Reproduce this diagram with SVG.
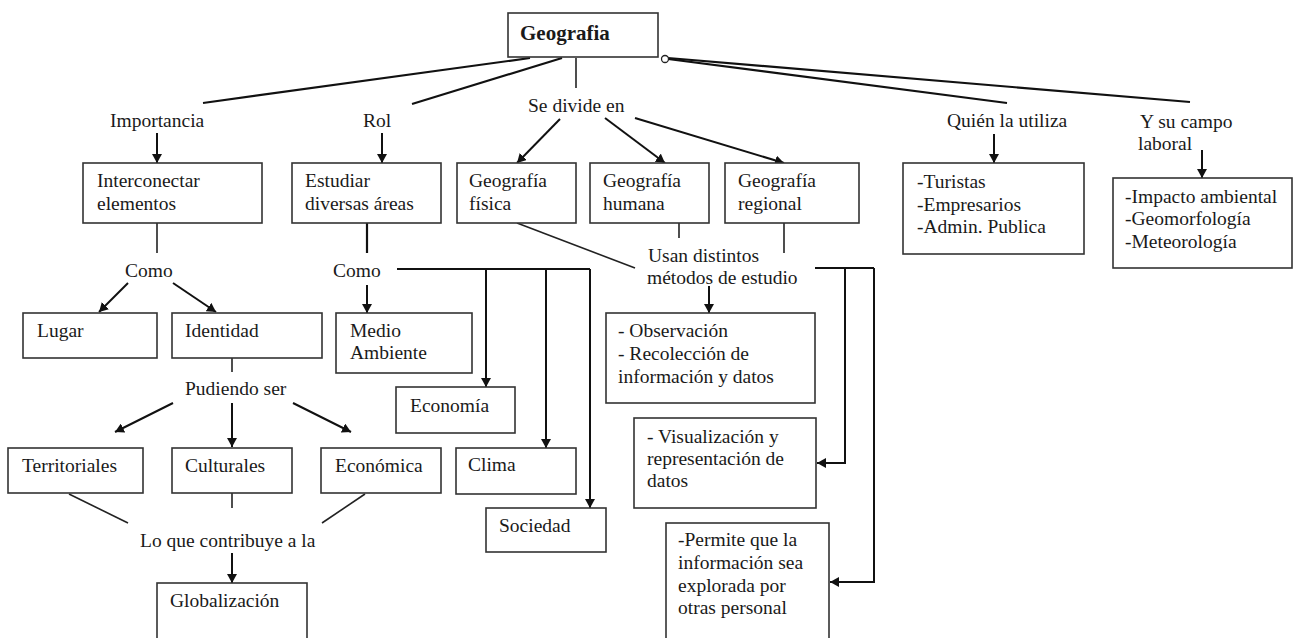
<svg xmlns="http://www.w3.org/2000/svg" width="1293" height="638" viewBox="0 0 1293 638">
<defs>
<marker id="ah" markerUnits="userSpaceOnUse" markerWidth="10" markerHeight="10" refX="9" refY="5" orient="auto">
<path d="M0,0 L9,5 L0,10 z" fill="#111"/>
</marker>
<style>
.b{fill:#fff;stroke:#333;stroke-width:1.6}
.t{font-family:"Liberation Serif","Times New Roman",serif;font-size:19.5px;fill:#1a1a1a}
.l{fill:none;stroke:#222;stroke-width:1.6}
.m{fill:none;stroke:#111;stroke-width:2.2}
.a{fill:none;stroke:#111;stroke-width:2;marker-end:url(#ah)}
</style>
</defs>
<rect width="1293" height="638" fill="#fff"/>
<g id="connectors">
<line class="m" x1="203" y1="103" x2="530" y2="58"/>
<line class="m" x1="412" y1="104" x2="562" y2="58"/>
<line class="l" x1="576" y1="58" x2="576" y2="88"/>
<line class="m" x1="668" y1="59" x2="1007" y2="103"/>
<line class="m" x1="668" y1="58" x2="1190" y2="102"/>
<circle cx="665" cy="59" r="3.5" fill="#fff" stroke="#222" stroke-width="1.3"/>
<line class="a" x1="157" y1="133" x2="157" y2="163"/>
<line class="a" x1="382" y1="133" x2="382" y2="163"/>
<line class="a" x1="560" y1="119" x2="517" y2="163"/>
<line class="a" x1="605" y1="118" x2="665" y2="163"/>
<line class="a" x1="635" y1="118" x2="784" y2="163"/>
<line class="a" x1="994" y1="134" x2="994" y2="163"/>
<line class="a" x1="1202" y1="150" x2="1202" y2="178"/>
<line class="l" x1="157" y1="223" x2="157" y2="253"/>
<line class="a" x1="128" y1="283" x2="99" y2="312"/>
<line class="a" x1="173" y1="283" x2="216" y2="312"/>
<line class="m" x1="367" y1="223" x2="367" y2="253"/>
<line class="a" x1="367" y1="285" x2="367" y2="313"/>
<polyline class="m" points="397,269 590,269"/>
<line class="a" x1="486" y1="269" x2="486" y2="387"/>
<line class="a" x1="546" y1="269" x2="546" y2="448"/>
<line class="a" x1="590" y1="269" x2="590" y2="508"/>
<line class="l" x1="232" y1="358" x2="232" y2="372"/>
<line class="a" x1="173" y1="403" x2="115" y2="432"/>
<line class="a" x1="232" y1="403" x2="232" y2="447"/>
<line class="a" x1="293" y1="403" x2="351" y2="432"/>
<line class="l" x1="69" y1="494" x2="128" y2="523"/>
<line class="l" x1="232" y1="493" x2="232" y2="508"/>
<line class="l" x1="365" y1="494" x2="322" y2="523"/>
<line class="a" x1="232" y1="553" x2="232" y2="583"/>
<line class="l" x1="517" y1="223" x2="635" y2="268"/>
<line class="l" x1="679" y1="223" x2="679" y2="238"/>
<line class="l" x1="784" y1="223" x2="784" y2="253"/>
<line class="a" x1="709" y1="286" x2="709" y2="313"/>
<polyline class="m" points="815,268 874,268"/>
<polyline class="a" points="845,268 845,463 817,463"/>
<polyline class="a" points="874,268 874,582 830,582"/>
</g>
<g id="geografia"><rect class="b" x="508" y="13" width="150" height="44"/><text class="t" x="520" y="40" style="font-weight:bold;font-size:21px">Geografia</text></g>
<g id="importancia"><text class="t" x="110" y="127">Importancia</text></g>
<g id="rol"><text class="t" x="363" y="127">Rol</text></g>
<g id="sedivide"><text class="t" x="528" y="112">Se divide en</text></g>
<g id="quien"><text class="t" x="947" y="127">Quién la utiliza</text></g>
<g id="campo"><text class="t" x="1140" y="128">Y su campo</text><text class="t" x="1138" y="150">laboral</text></g>
<g id="interconectar"><rect class="b" x="83" y="163" width="179" height="60"/><text class="t" x="97" y="187">Interconectar</text><text class="t" x="97" y="210">elementos</text></g>
<g id="estudiar"><rect class="b" x="292" y="163" width="149" height="60"/><text class="t" x="305" y="187">Estudiar</text><text class="t" x="305" y="210">diversas áreas</text></g>
<g id="fisica"><rect class="b" x="457" y="163" width="119" height="60"/><text class="t" x="469" y="187">Geografía</text><text class="t" x="469" y="210">física</text></g>
<g id="humana"><rect class="b" x="590" y="163" width="119" height="60"/><text class="t" x="603" y="187">Geografía</text><text class="t" x="603" y="210">humana</text></g>
<g id="regional"><rect class="b" x="725" y="163" width="134" height="60"/><text class="t" x="738" y="187">Geografía</text><text class="t" x="738" y="210">regional</text></g>
<g id="turistas"><rect class="b" x="903" y="163" width="181" height="91"/><text class="t" x="917" y="188">-Turistas</text><text class="t" x="917" y="211">-Empresarios</text><text class="t" x="917" y="233">-Admin. Publica</text></g>
<g id="laboral"><rect class="b" x="1113" y="178" width="179" height="90"/><text class="t" x="1125" y="203">-Impacto ambiental</text><text class="t" x="1125" y="225">-Geomorfología</text><text class="t" x="1125" y="248">-Meteorología</text></g>
<g id="como1"><text class="t" x="125" y="277">Como</text></g>
<g id="como2"><text class="t" x="333" y="277">Como</text></g>
<g id="usan"><text class="t" x="648" y="262">Usan distintos</text><text class="t" x="647" y="284">métodos de estudio</text></g>
<g id="lugar"><rect class="b" x="23" y="313" width="134" height="45"/><text class="t" x="37" y="337">Lugar</text></g>
<g id="identidad"><rect class="b" x="172" y="313" width="150" height="45"/><text class="t" x="185" y="337">Identidad</text></g>
<g id="medio"><rect class="b" x="336" y="313" width="136" height="60"/><text class="t" x="350" y="337">Medio</text><text class="t" x="350" y="359">Ambiente</text></g>
<g id="observacion"><rect class="b" x="606" y="313" width="209" height="90"/><text class="t" x="618" y="337">- Observación</text><text class="t" x="618" y="360">- Recolección de</text><text class="t" x="618" y="383">información y datos</text></g>
<g id="pudiendo"><text class="t" x="185" y="395">Pudiendo ser</text></g>
<g id="economia"><rect class="b" x="396" y="387" width="119" height="46"/><text class="t" x="410" y="412">Economía</text></g>
<g id="visualizacion"><rect class="b" x="634" y="418" width="182" height="90"/><text class="t" x="647" y="443">- Visualización y</text><text class="t" x="647" y="465">representación de</text><text class="t" x="647" y="487">datos</text></g>
<g id="territoriales"><rect class="b" x="8" y="448" width="135" height="45"/><text class="t" x="22" y="472">Territoriales</text></g>
<g id="culturales"><rect class="b" x="172" y="448" width="120" height="45"/><text class="t" x="185" y="472">Culturales</text></g>
<g id="economica"><rect class="b" x="321" y="448" width="120" height="45"/><text class="t" x="335" y="472">Económica</text></g>
<g id="clima"><rect class="b" x="456" y="448" width="120" height="46"/><text class="t" x="468" y="471">Clima</text></g>
<g id="sociedad"><rect class="b" x="486" y="508" width="120" height="44"/><text class="t" x="499" y="532">Sociedad</text></g>
<g id="permite"><rect class="b" x="666" y="523" width="163" height="125"/><text class="t" x="678" y="546">-Permite que la</text><text class="t" x="678" y="569">información sea</text><text class="t" x="678" y="592">explorada por</text><text class="t" x="678" y="614">otras personal</text></g>
<g id="contribuye"><text class="t" x="140" y="547">Lo que contribuye a la</text></g>
<g id="globalizacion"><rect class="b" x="157" y="583" width="150" height="65"/><text class="t" x="170" y="607">Globalización</text></g>
</svg>
